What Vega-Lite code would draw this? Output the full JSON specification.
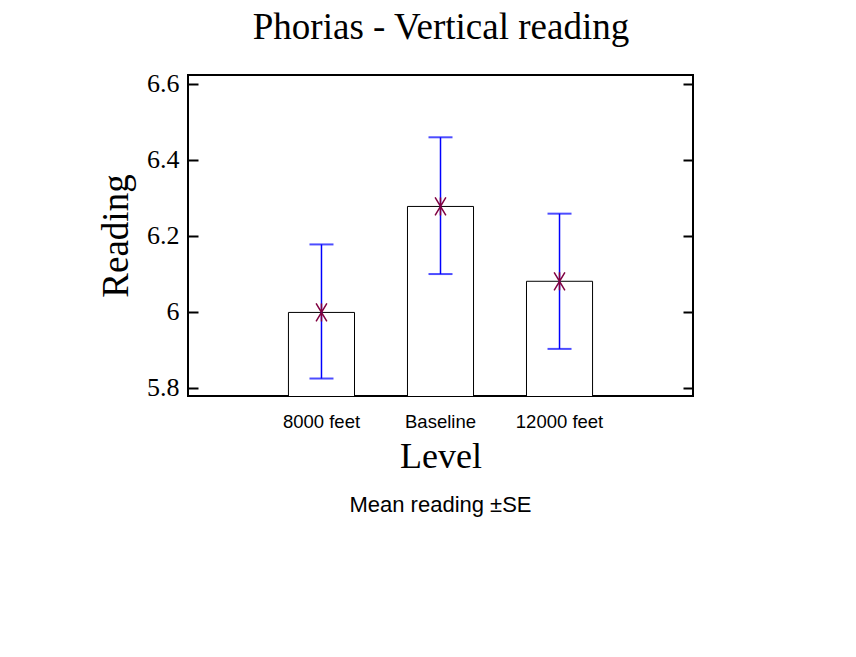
{
  "$schema": "https://vega.github.io/schema/vega-lite/v6.json",
  "autosize": {"type": "none"},
  "padding": {"left": 188, "top": 75, "right": 163, "bottom": 261},
  "width": 505,
  "height": 321,
  "background": "white",
  "config": {
    "view": {"stroke": "black", "strokeWidth": 2},
    "axis": {"grid": false}
  },
  "title": {
    "text": "Mean reading ±SE",
    "orient": "bottom",
    "anchor": "middle",
    "font": "Liberation Sans",
    "fontSize": 22,
    "fontWeight": "normal",
    "color": "black",
    "offset": 20
  },
  "data": {
    "values": [
      {"Level": "8000 feet", "mean": 5.998, "lo": 5.824, "hi": 6.177},
      {"Level": "Baseline", "mean": 6.277, "lo": 6.099, "hi": 6.459},
      {"Level": "12000 feet", "mean": 6.080, "lo": 5.902, "hi": 6.258}
    ]
  },
  "resolve": {"axis": {"x": "independent", "y": "independent"}},
  "layer": [
    {
      "mark": {"type": "bar", "fill": "white", "stroke": "black", "strokeWidth": 1, "clip": true},
      "encoding": {
        "x": {
          "field": "Level", "type": "nominal", "sort": null,
          "scale": {"type": "band", "paddingInner": 0.445, "paddingOuter": 0.844},
          "axis": {
            "orient": "bottom", "title": "Level", "labelAngle": 0,
            "domain": false, "ticks": false, "tickSize": 0,
            "labelFont": "Liberation Sans", "labelFontSize": 18.5, "labelColor": "black",
            "labelPadding": 16,
            "titleFont": "Liberation Serif", "titleFontSize": 36, "titleFontWeight": "normal",
            "titleColor": "black", "titlePadding": 9
          }
        },
        "y": {
          "field": "mean", "type": "quantitative",
          "scale": {"domain": [5.778, 6.623], "nice": false, "zero": false},
          "axis": {
            "orient": "left", "title": "Reading",
            "values": [5.8, 6, 6.2, 6.4, 6.6], "format": ".1~f",
            "domain": false, "tickSize": -10, "tickWidth": 2, "tickColor": "black",
            "labelFont": "Liberation Serif", "labelFontSize": 26, "labelColor": "black",
            "labelPadding": 19,
            "titleFont": "Liberation Serif", "titleFontSize": 37, "titleFontWeight": "normal",
            "titleColor": "black", "titlePadding": 11
          }
        }
      }
    },
    {
      "mark": {"type": "rule", "color": "#0000ff", "strokeWidth": 1.5},
      "encoding": {
        "x": {
          "field": "Level", "type": "nominal", "sort": null,
          "axis": {
            "orient": "top", "title": "Phorias - Vertical reading",
            "labels": false, "ticks": false, "domain": false,
            "titleFont": "Liberation Serif", "titleFontSize": 37, "titleFontWeight": "normal",
            "titleColor": "black", "titlePadding": 29
          }
        },
        "y": {
          "field": "lo", "type": "quantitative",
          "axis": {
            "orient": "right", "title": null, "labels": false, "domain": false,
            "values": [5.8, 6, 6.2, 6.4, 6.6],
            "tickSize": -10, "tickWidth": 2, "tickColor": "black"
          }
        },
        "y2": {"field": "hi"}
      }
    },
    {
      "mark": {"type": "tick", "color": "#0000ff", "size": 24, "thickness": 2},
      "encoding": {
        "x": {"field": "Level", "type": "nominal", "sort": null, "axis": null},
        "y": {"field": "lo", "type": "quantitative", "axis": null}
      }
    },
    {
      "mark": {"type": "tick", "color": "#0000ff", "size": 24, "thickness": 2},
      "encoding": {
        "x": {"field": "Level", "type": "nominal", "sort": null, "axis": null},
        "y": {"field": "hi", "type": "quantitative", "axis": null}
      }
    },
    {
      "mark": {
        "type": "point",
        "shape": "M-0.6,-1L0.6,1M-0.6,1L0.6,-1M0,-1L0,1",
        "size": 324, "filled": false, "stroke": "#800040", "strokeWidth": 1.5, "opacity": 1
      },
      "encoding": {
        "x": {"field": "Level", "type": "nominal", "sort": null, "axis": null},
        "y": {"field": "mean", "type": "quantitative", "axis": null}
      }
    }
  ]
}
